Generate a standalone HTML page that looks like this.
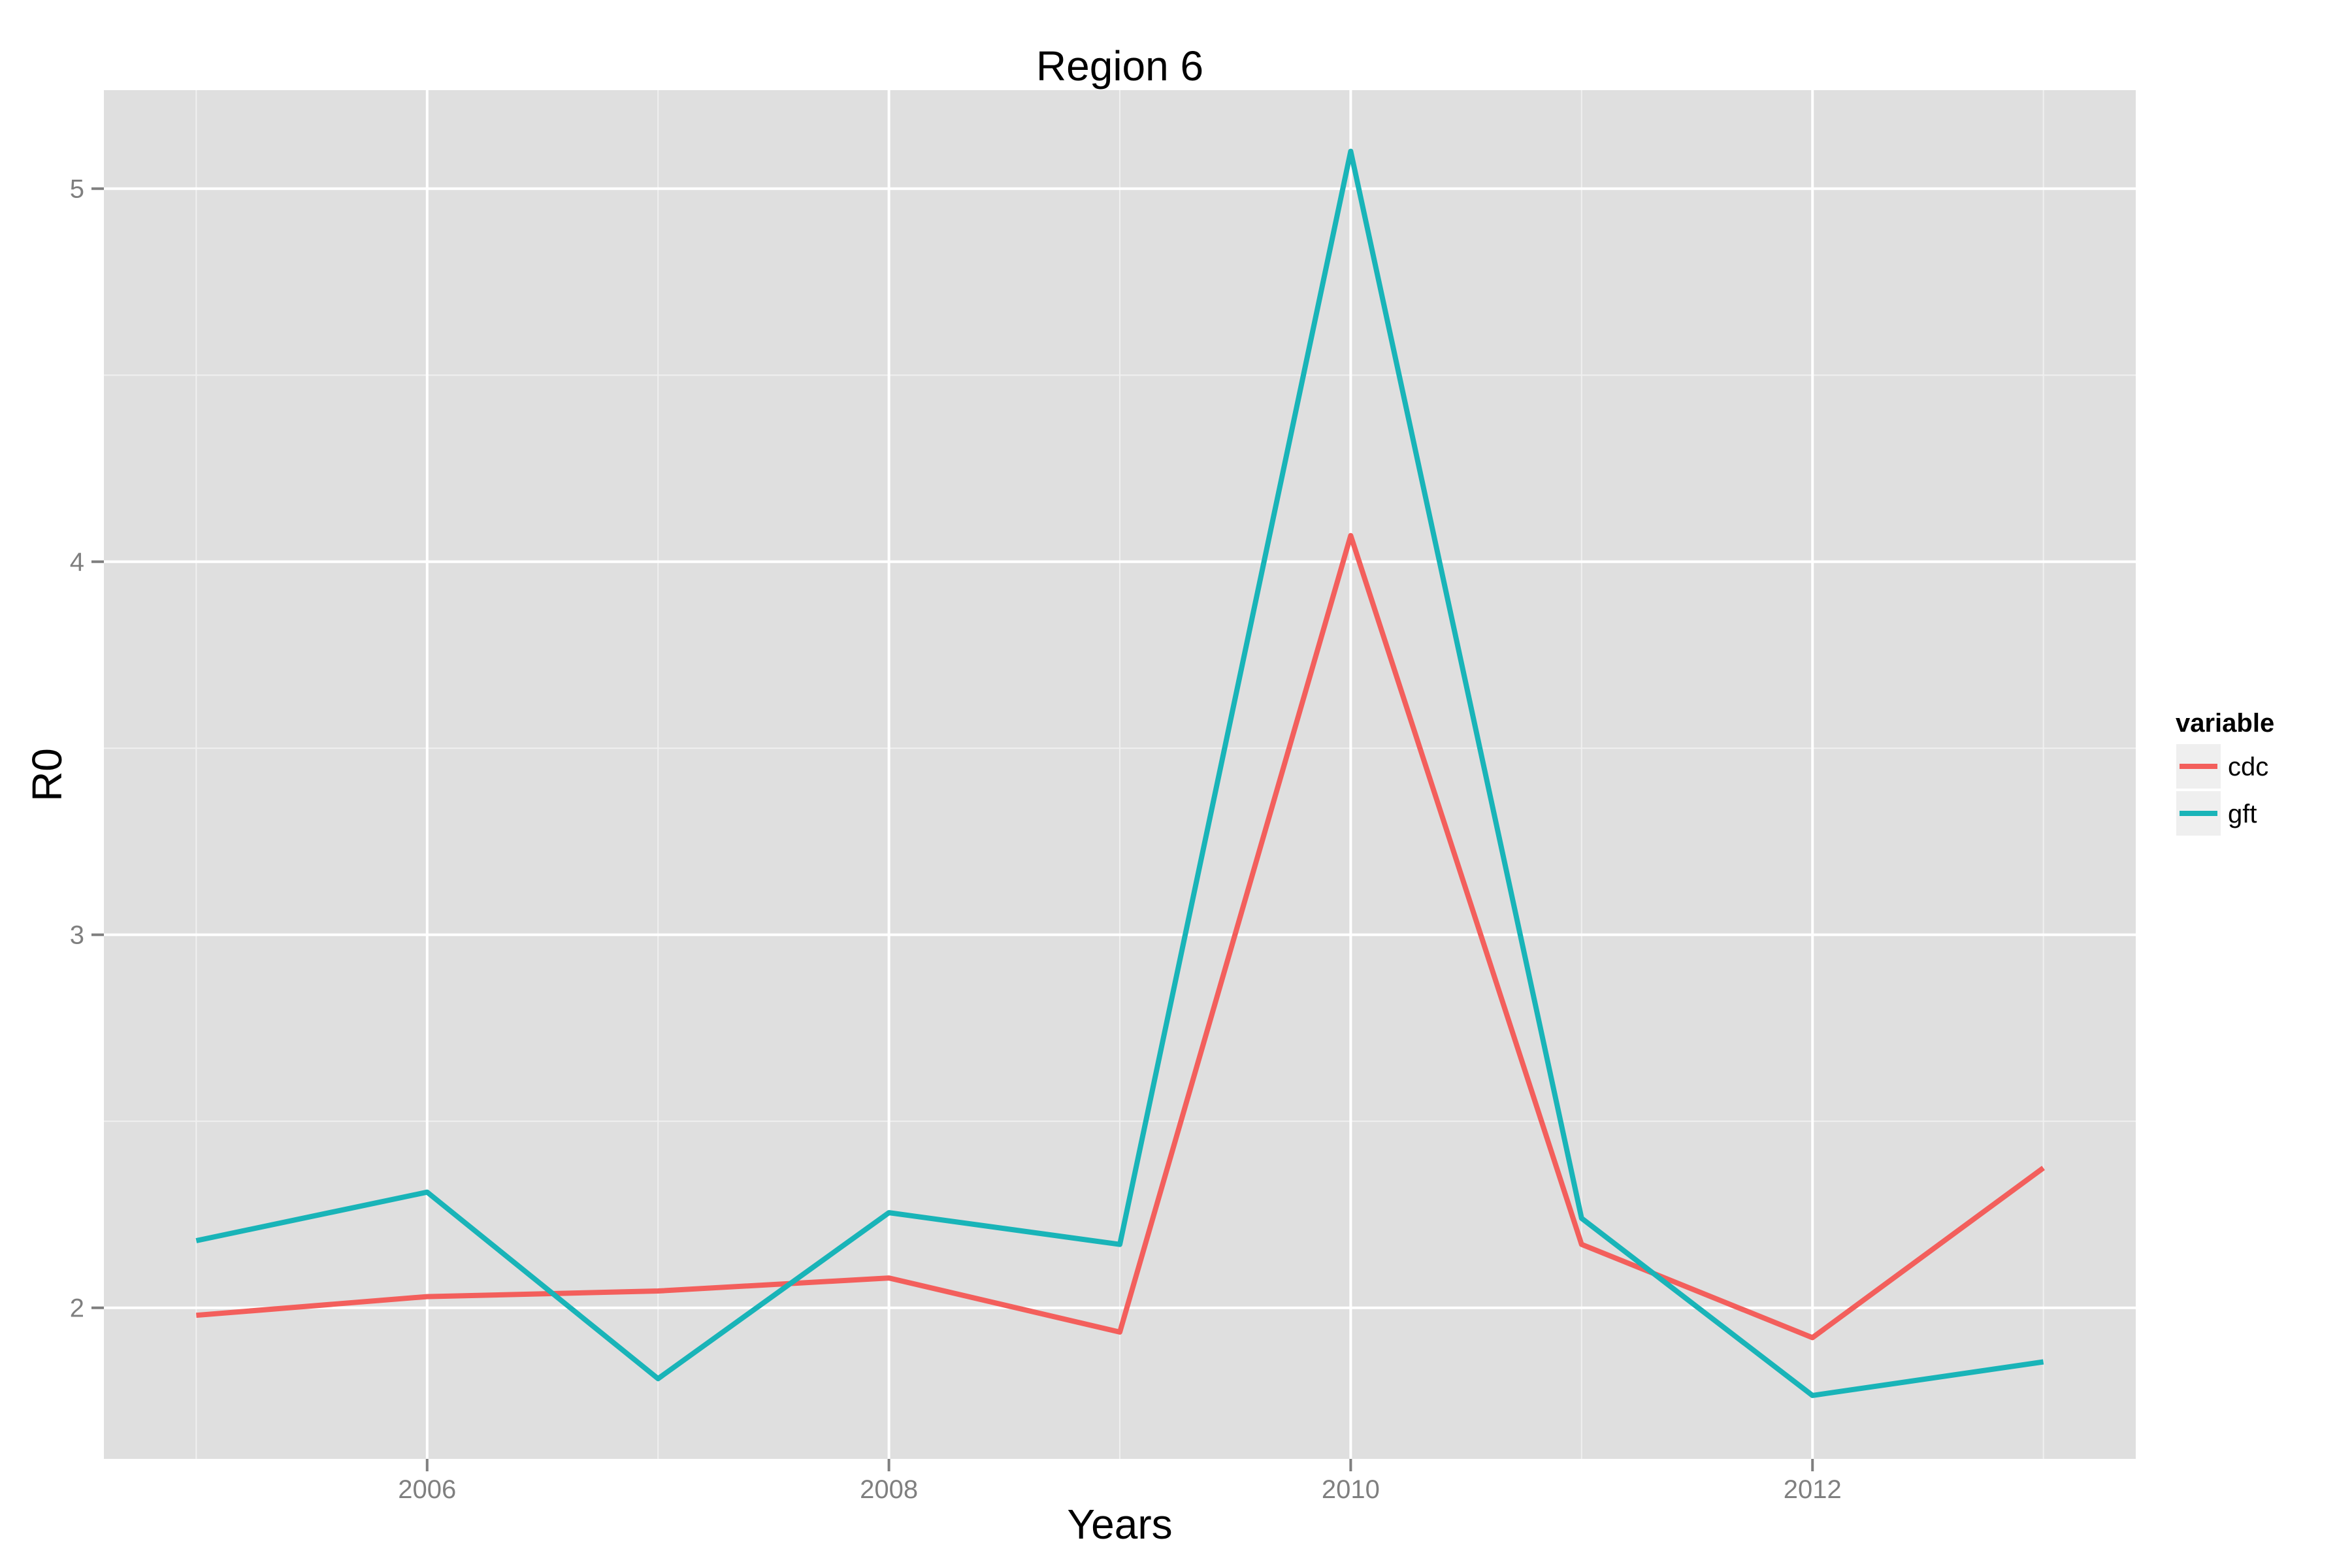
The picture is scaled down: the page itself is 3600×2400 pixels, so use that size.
<!DOCTYPE html>
<html><head><meta charset="utf-8"><style>
html,body{margin:0;padding:0;background:#fff;}
svg{display:block;font-family:"Liberation Sans",Arial,sans-serif;}
</style></head><body>
<svg id="chart" width="3600" height="2400" viewBox="0 0 3600 2400" xmlns="http://www.w3.org/2000/svg">
<rect x="0" y="0" width="3600" height="2400" fill="#ffffff"/>
<rect x="159" y="138" width="3110" height="2095" fill="#dfdfdf"/>
<g id="grid"></g>
<g id="series"></g>
<g id="axes"></g>
<text x="1714" y="123" font-size="64" text-anchor="middle" fill="#000">Region 6</text>
<text x="1714" y="2355" font-size="64" text-anchor="middle" fill="#000">Years</text>
<text x="0" y="0" font-size="64" text-anchor="middle" fill="#000" transform="translate(94,1186) rotate(-90)">R0</text>
<g>
<text x="3330" y="1120" font-size="40" font-weight="bold" fill="#000">variable</text>
<g>
<rect x="3331" y="1139" width="68" height="68" fill="#efefef"/>
<line x1="3336" y1="1173" x2="3394" y2="1173" stroke="#F35F5C" stroke-width="8"/>
<text x="3410" y="1187" font-size="40" fill="#000">cdc</text>
</g>
<g>
<rect x="3331" y="1211" width="68" height="68" fill="#efefef"/>
<line x1="3336" y1="1245" x2="3394" y2="1245" stroke="#19B4B8" stroke-width="8"/>
<text x="3410" y="1259" font-size="40" fill="#000">gft</text>
</g>
</g>
</svg>
<script>
const years = [2005, 2006, 2007, 2008, 2009, 2010, 2011, 2012, 2013];
const cdcValues = [1.98, 2.03, 2.045, 2.08, 1.935, 4.07, 2.17, 1.92, 2.375];
const gftValues = [2.18, 2.31, 1.81, 2.255, 2.17, 5.1, 2.24, 1.765, 1.855];
const xTicks = [2006, 2008, 2010, 2012];
const xMinor = [2005, 2007, 2009, 2011, 2013];
const yTicks = [2, 3, 4, 5];
const yMinor = [2.5, 3.5, 4.5];

const PL = 159, PR = 3269, PT = 138, PB = 2233;
const X0 = 2004.6, X1 = 2013.4, Y0 = 1.595, Y1 = 5.264;
function xs(v){ return PL + (v - X0) / (X1 - X0) * (PR - PL); }
function ys(v){ return PB - (v - Y0) / (Y1 - Y0) * (PB - PT); }
const NS = "http://www.w3.org/2000/svg";
function mk(tag, attrs, parent){
  const e = document.createElementNS(NS, tag);
  for (const k in attrs) e.setAttribute(k, attrs[k]);
  parent.appendChild(e);
  return e;
}
const grid = document.getElementById('grid');
const axes = document.getElementById('axes');
const series = document.getElementById('series');

xMinor.forEach(v => {
  const l = mk('line', {x1: xs(v), x2: xs(v), y1: PT, y2: PB, stroke: '#f0f0f0', 'stroke-width': 2}, grid);
  
  
});
yMinor.forEach(v => {
  const l = mk('line', {x1: PL, x2: PR, y1: ys(v), y2: ys(v), stroke: '#f0f0f0', 'stroke-width': 2}, grid);
  
  
});
xTicks.forEach(v => {
  const l = mk('line', {x1: xs(v), x2: xs(v), y1: PT, y2: PB, stroke: '#ffffff', 'stroke-width': 4}, grid);
  
  
  const t = mk('line', {x1: xs(v), x2: xs(v), y1: PB, y2: PB + 19, stroke: '#7f7f7f', 'stroke-width': 4}, axes);
  
  
  const tx = mk('text', {x: xs(v), y: 2293, 'font-size': 40, 'text-anchor': 'middle', fill: '#7f7f7f'}, axes);
  tx.textContent = String(v);
  
  
});
yTicks.forEach(v => {
  const l = mk('line', {x1: PL, x2: PR, y1: ys(v), y2: ys(v), stroke: '#ffffff', 'stroke-width': 4}, grid);
  
  
  const t = mk('line', {x1: PL - 19, x2: PL, y1: ys(v), y2: ys(v), stroke: '#7f7f7f', 'stroke-width': 4}, axes);
  
  
  const tx = mk('text', {x: 129, y: ys(v) + 14, 'font-size': 40, 'text-anchor': 'end', fill: '#7f7f7f'}, axes);
  tx.textContent = String(v);
  
  
});
function drawLine(vals, color, name){
  const pts = vals.map((v, i) => xs(years[i]).toFixed(1) + ',' + ys(v).toFixed(1)).join(' ');
  const p = mk('polyline', {points: pts, fill: 'none', stroke: color, 'stroke-width': 8, 'stroke-linejoin': 'round'}, series);
  
  
}
drawLine(cdcValues, '#F35F5C', 'cdc-line');
drawLine(gftValues, '#19B4B8', 'gft-line');
</script>
</body></html>
